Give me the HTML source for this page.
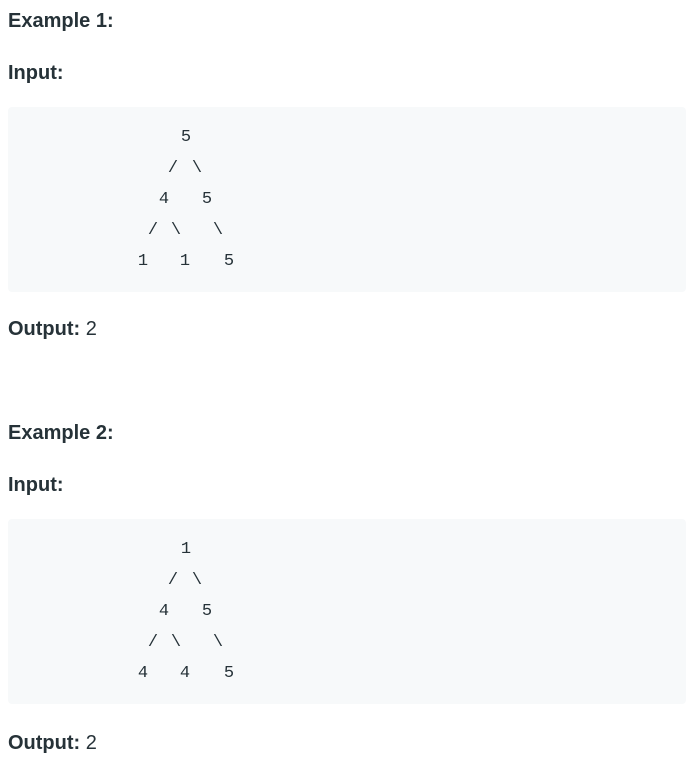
<!DOCTYPE html>
<html><head><meta charset="utf-8"><style>
body{margin:0;width:697px;height:766px;background:#fff;position:relative;overflow:hidden;font-family:"Liberation Sans",sans-serif;color:#263238}
.h{position:absolute;left:8px;font-weight:bold;font-size:20px;line-height:24px;margin:0}
.o{position:absolute;left:8px;font-size:20px;line-height:24px;margin:0}
.o b{font-weight:bold}
.blk{position:absolute;left:8px;width:678px;background:#f7f9fa;border-radius:4px}
.c{position:absolute;font-family:"Liberation Mono",monospace;font-size:17px;line-height:18px;width:20px;margin-left:-10px;text-align:center;color:#263238}
</style></head><body>
<div class="h" style="top:9px">Example 1:</div>
<div class="h" style="top:61px">Input:</div>
<div class="blk" style="top:107px;height:185px"></div>
<div>
<span class="c" style="left:186px;top:129px">5</span>
<span class="c" style="left:173px;top:160px">/</span><span class="c" style="left:197px;top:160px">\</span>
<span class="c" style="left:164px;top:191px">4</span><span class="c" style="left:207px;top:191px">5</span>
<span class="c" style="left:153px;top:222px">/</span><span class="c" style="left:176px;top:222px">\</span><span class="c" style="left:218px;top:222px">\</span>
<span class="c" style="left:143px;top:253px">1</span><span class="c" style="left:185px;top:253px">1</span><span class="c" style="left:229px;top:253px">5</span>
</div>
<div class="o" style="top:317px"><b>Output:</b> 2</div>

<div class="h" style="top:421px">Example 2:</div>
<div class="h" style="top:473px">Input:</div>
<div class="blk" style="top:519px;height:185px"></div>
<div>
<span class="c" style="left:186px;top:541px">1</span>
<span class="c" style="left:173px;top:572px">/</span><span class="c" style="left:197px;top:572px">\</span>
<span class="c" style="left:164px;top:603px">4</span><span class="c" style="left:207px;top:603px">5</span>
<span class="c" style="left:153px;top:634px">/</span><span class="c" style="left:176px;top:634px">\</span><span class="c" style="left:218px;top:634px">\</span>
<span class="c" style="left:143px;top:665px">4</span><span class="c" style="left:185px;top:665px">4</span><span class="c" style="left:229px;top:665px">5</span>
</div>
<div class="o" style="top:731px"><b>Output:</b> 2</div>
</body></html>
